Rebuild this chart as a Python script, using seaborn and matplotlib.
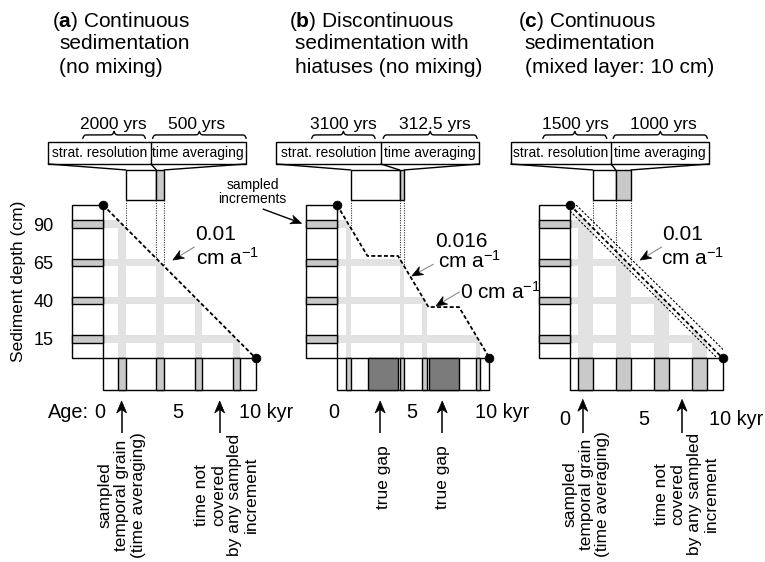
import numpy as np
import matplotlib
matplotlib.use("Agg")
import matplotlib.pyplot as plt
import seaborn as sns
from matplotlib.patches import Rectangle, Polygon

sns.set_theme(style="white")
plt.rcParams["font.family"] = ["Liberation Sans", "DejaVu Sans"]
plt.rcParams["mathtext.fontset"] = "custom"
plt.rcParams["mathtext.rm"] = "Liberation Sans"
plt.rcParams["mathtext.bf"] = "Liberation Sans:bold"
plt.rcParams["mathtext.it"] = "Liberation Sans:italic"
plt.rcParams["text.color"] = "black"
plt.rcParams["ytick.color"] = "black"
plt.rcParams["axes.labelcolor"] = "black"

# ---------------- data ----------------
panel_letters = ["a", "b", "c"]
title_first = ["Continuous", "Discontinuous", "Continuous"]
title_rest = [["sedimentation", "(no mixing)"],
              ["sedimentation with", "hiatuses (no mixing)"],
              ["sedimentation", "(mixed layer: 10 cm)"]]
curve_age = [[0, 10], [0, 2, 4, 6, 8, 10], [0, 10]]
curve_depth = [[100, 0], [100, 66.7, 66.7, 33.3, 33.3, 0], [100, 0]]
mix_upper_age = [0.4, 10.3]
mix_upper_depth = [100, 3]
mix_lower_age = [0.0, 9.65]
mix_lower_depth = [96, 0]
sample_depths = [(10, 15), (35, 40), (60, 65), (85, 90)]
depth_tick_pos = [87.5, 62.5, 37.5, 12.5]
depth_tick_labels = ["90", "65", "40", "15"]
sample_ages = [[(1.0, 1.5), (3.5, 4.0), (6.0, 6.5), (8.5, 9.0)],
               [(0.6, 0.9), (4.1, 4.4), (5.6, 5.9), (9.1, 9.4)],
               [(0.5, 1.5), (3.0, 4.0), (5.5, 6.5), (8.0, 9.0)]]
gap_ages = [[], [(2, 4), (6, 8)], []]
strat_res = ["2000 yrs", "3100 yrs", "1500 yrs"]
time_avg = ["500 yrs", "312.5 yrs", "1000 yrs"]
window_ages = [(1.5, 3.5, 4.0), (0.9, 4.1, 4.4), (1.5, 3.0, 4.0)]
window_depths = [(85, 65, 60), (85, 65, 60), (85, 70, 60)]
rate_values = [["0.01"], ["0.016", "0"], ["0.01"]]
note_a = "sampled\ntemporal grain\n(time averaging)"
note_b = "time not\ncovered\nby any sampled\nincrement"
bottom_notes = [[note_a, note_b], ["true gap", "true gap"], [note_a, note_b]]
note_arrow_ages = [[1.22, 7.65], [2.83, 6.9], [0.84, 7.35]]

# ---------------- layout ----------------
panel_x0 = [103, 337, 570]
PXW = 152.5
Y_TOP, Y_BOT = 205, 358
FW, FH = 765, 562
LIGHT, MID, DARK = "#e2e2e2", "#c9c9c9", "#7b7b7b"
COL_W = 2.03
AGE_COL_H = 20.7
box_x = [(-3.58, 3.14, 9.35), (-3.97, 2.88, 9.3), (-3.88, 2.7, 9.1)]
BOX_Y = (126.8, 141.4)
SMALL_Y = (103.3, 122.9)
brace_x = [((-1.33, 2.78), (3.25, 9.39)), ((-1.66, 2.5), (3.03, 9.19)),
           ((-1.78, 2.41), (2.83, 9.01))]
brace_text_x = [(0.65, 6.14), (0.39, 6.45), (0.33, 6.12)]
title_x = [(-3.33, -2.86), (-3.13, -2.75), (-3.4, -2.96)]
title_y = [216.5, 201.8, 186.6]
age_lbl_x = [(-0.2, 4.9, 8.95), (-0.2, 4.9, 9.08), (-0.33, 4.82, 9.1)]
age_lbl_y = [-39.4, -39.4, -43.8]
AGE_FS = 14.3
note_center = [[(1.24, -89.5), (8.1, -89.5)], [(3.05, -78), (6.89, -78)],
               [(1.05, -88.9), (7.63, -88.9)]]
arrow_tip_y = [-28.1, -28.1, -27.0]
arrow_tail_y = -49.0
rate_text = [[(6.01, 77.1), (6.12, 60.8)],
             [(6.45, 72.7), (6.6, 59.2), (8.09, 39.0)],
             [(6.07, 77.1), (5.96, 60.8)]]
rate_arrows = [[((6.01, 72.7), (4.58, 64.0))],
               [((6.34, 61.4), (4.91, 53.6)), ((8.05, 43.3), (6.49, 34.0))],
               [((6.03, 72.7), (4.6, 64.0))]]

SX = PXW / 10.0   # px per kyr
SY = (Y_BOT - Y_TOP) / 100.0  # px per cm

fig = plt.figure(figsize=(FW / 100, FH / 100), dpi=100)


def head(ax, start, tip, line_color="black", lw=0.8, L=11.0, W=9.0, notch=0.3):
    dx = (tip[0] - start[0]) * SX
    dy = (tip[1] - start[1]) * SY
    n = np.hypot(dx, dy)
    ux, uy = dx / n, dy / n
    nx, ny = -uy, ux

    def to_data(px, py):
        return (tip[0] + px / SX, tip[1] + py / SY)

    back = to_data(-ux * L, -uy * L)
    p1 = to_data(-ux * L + nx * W / 2, -uy * L + ny * W / 2)
    p2 = to_data(-ux * L - nx * W / 2, -uy * L - ny * W / 2)
    pn = to_data(-ux * L * (1 - notch), -uy * L * (1 - notch))
    ax.plot([start[0], pn[0]], [start[1], pn[1]], color=line_color, lw=lw,
            clip_on=False, solid_capstyle="butt", zorder=6)
    ax.add_patch(Polygon([tip, p1, pn, p2], closed=True, facecolor="black",
                         edgecolor="black", lw=0.5, clip_on=False, zorder=7))


def brace(ax, x1, x2, ybase, h):
    n = 401
    x = np.linspace(x1, x2, n)
    beta = 22.0
    xh = x[: n // 2 + 1]
    yh = 1 / (1 + np.exp(-beta * (xh - xh[0]))) + 1 / (1 + np.exp(-beta * (xh - xh[-1])))
    y = np.concatenate((yh, yh[-2::-1])) - 0.5
    ax.plot(x, ybase + y * h, color="black", lw=1.0, clip_on=False)


for i in range(3):
    left = panel_x0[i] / FW
    bottom = 1 - Y_BOT / FH
    ax = fig.add_axes([left, bottom, PXW / FW, (Y_BOT - Y_TOP) / FH])
    ax.set_xlim(0, 10)
    ax.set_ylim(0, 100)
    for s in ax.spines.values():
        s.set_visible(False)
    ax.set_xticks([])
    ax.set_facecolor("none")
    if i == 0:
        ax.set_yticks(depth_tick_pos)
        ax.set_yticklabels(depth_tick_labels, fontsize=13)
        ax.tick_params(axis="y", length=0, pad=35.8)
        ax.text(-5.57, 50.3, "Sediment depth (cm)", rotation=90, ha="center",
                va="center", fontsize=12.5)
    else:
        ax.set_yticks([])

    ages = curve_age[i]
    depths = curve_depth[i]

    # clip region below the sedimentation curve
    poly = Polygon([(0, 0)] + list(zip(ages, depths)) + [(10, 0)], closed=True,
                   facecolor="none", edgecolor="none")
    ax.add_patch(poly)
    for d0, d1 in sample_depths:
        r = Rectangle((0, d0), 10, d1 - d0, facecolor=LIGHT, edgecolor="none", zorder=1)
        ax.add_patch(r)
        r.set_clip_path(poly)
    for a0, a1 in sample_ages[i]:
        r = Rectangle((a0, 0), a1 - a0, 100, facecolor=LIGHT, edgecolor="none", zorder=1)
        ax.add_patch(r)
        r.set_clip_path(poly)

    # depth column
    ax.add_patch(Rectangle((-COL_W, 0), COL_W, 100, facecolor="white",
                           edgecolor="black", lw=1.0, clip_on=False, zorder=2))
    for d0, d1 in sample_depths:
        ax.add_patch(Rectangle((-COL_W, d0), COL_W, d1 - d0, facecolor=MID,
                               edgecolor="black", lw=1.0, clip_on=False, zorder=3))
    # age column
    ax.add_patch(Rectangle((0, -AGE_COL_H), 10, AGE_COL_H, facecolor="white",
                           edgecolor="black", lw=1.0, clip_on=False, zorder=2))
    for a0, a1 in sample_ages[i]:
        ax.add_patch(Rectangle((a0, -AGE_COL_H), a1 - a0, AGE_COL_H, facecolor=MID,
                               edgecolor="black", lw=1.0, clip_on=False, zorder=3))
    for a0, a1 in gap_ages[i]:
        ax.add_patch(Rectangle((a0, -AGE_COL_H), a1 - a0, AGE_COL_H, facecolor=DARK,
                               edgecolor="black", lw=1.0, clip_on=False, zorder=3))

    # sedimentation curves
    sns.lineplot(x=ages, y=depths, ax=ax, color="black", lw=1.3, sort=False,
                 estimator=None, linestyle=(0, (2.2, 1.3)), zorder=5)
    if i == 2:
        sns.lineplot(x=mix_upper_age, y=mix_upper_depth, ax=ax, color="black", lw=0.8,
                     sort=False, estimator=None, linestyle=(0, (2.0, 1.6)), zorder=5)
        sns.lineplot(x=mix_lower_age, y=mix_lower_depth, ax=ax, color="black", lw=0.8,
                     sort=False, estimator=None, linestyle=(0, (2.0, 1.6)), zorder=5)
    sns.scatterplot(x=[ages[0], ages[-1]], y=[depths[0], depths[-1]], ax=ax,
                    color="black", s=40, edgecolor="black", zorder=8, clip_on=False)

    # top box with labels
    bl, bd, br = box_x[i]
    ax.add_patch(Rectangle((bl, BOX_Y[0]), br - bl, BOX_Y[1] - BOX_Y[0], facecolor="white",
                           edgecolor="black", lw=1.0, clip_on=False))
    ax.plot([bd, bd], BOX_Y, color="black", lw=1.0, clip_on=False)
    ax.text((bl + bd) / 2, 131.6, "strat. resolution", ha="center", va="baseline", fontsize=10)
    ax.text((bd + br) / 2, 131.6, "time averaging", ha="center", va="baseline", fontsize=10)
    wa0, wa1, wa2 = window_ages[i]
    ax.add_patch(Rectangle((wa0, SMALL_Y[0]), wa1 - wa0, SMALL_Y[1] - SMALL_Y[0],
                           facecolor="white", edgecolor="black", lw=1.0, clip_on=False))
    ax.add_patch(Rectangle((wa1, SMALL_Y[0]), wa2 - wa1, SMALL_Y[1] - SMALL_Y[0],
                           facecolor=MID, edgecolor="black", lw=1.0, clip_on=False))
    for xb, xs in [(bl, wa0), (bd, wa1), (br, wa2)]:
        ax.plot([xb, xs], [BOX_Y[0], SMALL_Y[1]], color="black", lw=1.0, clip_on=False)
    for xa, dd in zip(window_ages[i], window_depths[i]):
        ax.plot([xa, xa], [SMALL_Y[0], dd], color="#333333", lw=0.8,
                linestyle=(0, (1, 1.2)), clip_on=False, zorder=4)
    (b1, b2), (b3, b4) = brace_x[i]
    brace(ax, b1, b2, 143.5, 4.6)
    brace(ax, b3, b4, 143.5, 4.6)
    ax.text(brace_text_x[i][0], 150.0, strat_res[i], ha="center", va="baseline", fontsize=12.5)
    ax.text(brace_text_x[i][1], 150.0, time_avg[i], ha="center", va="baseline", fontsize=12.5)

    # title
    ax.text(title_x[i][0], title_y[0], r"($\mathbf{%s}$) %s" % (panel_letters[i], title_first[i]),
            ha="left", va="baseline", fontsize=15)
    for k, line in enumerate(title_rest[i]):
        ax.text(title_x[i][1], title_y[k + 1], line, ha="left", va="baseline", fontsize=15)

    # age labels
    x0l, x5l, x10l = age_lbl_x[i]
    ay = age_lbl_y[i]
    ax.text(x0l, ay, "0", ha="center", va="baseline", fontsize=AGE_FS)
    ax.text(x5l, ay, "5", ha="center", va="baseline", fontsize=AGE_FS)
    ax.text(x10l, ay, "10 kyr", ha="left", va="baseline", fontsize=AGE_FS)
    if i == 0:
        ax.text(-0.95, ay, "Age:", ha="right", va="baseline", fontsize=AGE_FS)

    # bottom arrows and notes
    for xa, note, (cx, cy) in zip(note_arrow_ages[i], bottom_notes[i], note_center[i]):
        head(ax, (xa, arrow_tail_y), (xa, arrow_tip_y[i]), lw=1.1, L=12.0, W=10.0)
        ax.text(cx, cy, note, rotation=90, ha="center", va="center",
                multialignment="center", fontsize=12.5, linespacing=1.12)

    # rate labels
    vals = rate_values[i]
    tpos = rate_text[i]
    ax.text(tpos[0][0], tpos[0][1], vals[0], ha="left", va="baseline", fontsize=15)
    ax.text(tpos[1][0], tpos[1][1], r"cm a$^{\mathregular{-1}}$", ha="left", va="baseline",
            fontsize=15)
    if len(vals) > 1:
        ax.text(tpos[2][0], tpos[2][1], vals[1] + r" cm a$^{\mathregular{-1}}$", ha="left",
                va="baseline", fontsize=15)
    for st, tp in rate_arrows[i]:
        head(ax, st, tp, line_color="#8a8a8a", lw=0.8, L=11.0, W=9.0)

    if i == 1:
        ax.text(-5.53, 108.5, "sampled\nincrements", ha="center", va="center",
                fontsize=10, linespacing=1.05)
        head(ax, (-4.87, 97.4), (-2.32, 88.0), line_color="black", lw=1.0, L=11.0, W=9.0)

fig.savefig("out.png", dpi=100)
